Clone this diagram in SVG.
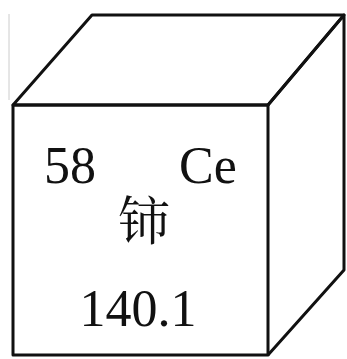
<svg xmlns="http://www.w3.org/2000/svg" width="347" height="359" viewBox="0 0 347 359">
<style>
.e{fill:none;stroke:#111;stroke-width:3;stroke-linejoin:round}
.t{font-family:"Liberation Serif","Noto Sans CJK SC",serif;fill:#111;font-size:52px}
</style>
<rect width="347" height="359" fill="#fff"/>
<line x1="9" y1="14" x2="9" y2="100" stroke="#ccc" stroke-width="1"/>
<g id="cube">
<path class="e" d="M13,105 L92,15 L344,15 L268,105 Z"/>
<path class="e" d="M268,105 L344,15 L344,270 L268,355"/>
<rect class="e" x="13" y="105" width="255" height="250"/>
</g>
<g id="labels">
<text class="t" x="44" y="183">58</text>
<text class="t" x="179" y="183">Ce</text>
<text class="t" x="144" y="240" text-anchor="middle" font-size="48" style="font-family:'Noto Serif CJK SC','Noto Sans CJK SC',serif">铈</text>
<text class="t" x="138" y="326" text-anchor="middle">140.1</text>
</g>
</svg>
